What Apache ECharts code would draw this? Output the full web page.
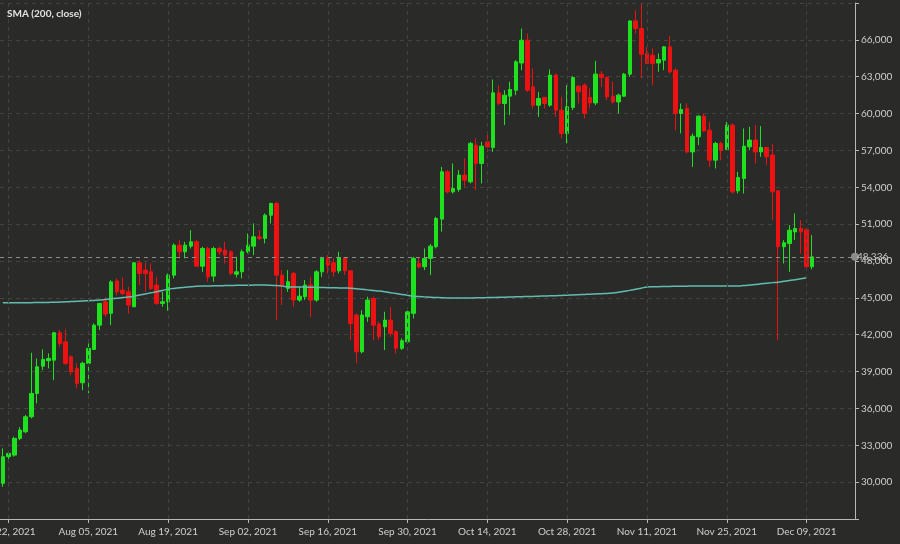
<!DOCTYPE html>
<html><head><meta charset="utf-8">
<script src="https://cdn.jsdelivr.net/npm/echarts@6/dist/echarts.min.js"></script>
<style>html,body{margin:0;padding:0;background:#2a2b29;}#c{width:900px;height:544px;}</style>
</head><body><div id="c"></div>
<script>
// ---- data ----
const firstDay = [2021, 6, 21];   // Jul 21, 2021 (first candle)
const totalSlots = 150;           // 143 candles + empty days to the right edge
const monthNames = ['Jan','Feb','Mar','Apr','May','Jun','Jul','Aug','Sep','Oct','Nov','Dec'];
const yTickLabels = [30000,33000,36000,39000,42000,45000,48000,51000,54000,57000,60000,63000,66000];
const lastPrice = 48336;
const smaTitle = 'SMA (200, close)';

const opens = [29900,32070,32200,33560,34100,35320,37220,39440,39880,39930,42160,41420,40200,39260,38090,39670,40800,42780,44680,43740,
46380,45630,45490,44270,47850,47260,47120,46040,44550,44680,46850,49290,48750,49210,49560,47580,49020,46770,49020,48890,
48750,46930,47120,48750,49210,49970,49840,51730,52680,46850,45770,46990,44820,45090,46040,44820,47120,48210,47850,47200,
48290,47200,43600,40610,43460,44950,42870,42650,43190,42240,40890,41420,43740,47800,47530,48210,49160,51410,55260,53630,
53820,54990,54450,57430,55940,57700,57240,61690,60820,61420,61900,64120,65970,62170,60680,61310,60680,63130,60280,58380,
60500,62230,62310,61310,60870,63210,62940,61420,60950,61420,63210,67540,66930,64890,64750,64120,64350,65430,63530,60010,
60410,56880,58110,59790,58650,56210,57570,57080,59060,53710,54720,57290,57840,56880,57240,56620,53710,49160,49430,50370,
50650,50570,47530];
const closes = [32070,32340,33560,34240,35320,37220,39390,39990,40070,42160,41290,39670,38980,38040,39670,40890,42780,44550,43680,46300,
45490,45360,44410,47850,46990,46990,45770,44550,44680,46850,49290,48750,49290,49560,47580,49020,46710,49020,48750,48480,
46990,47120,48750,49290,49970,49840,51730,52680,46850,46040,46310,44820,45140,46040,44820,47120,48210,47660,47120,48290,
47200,42920,40610,43600,44820,42780,41840,43190,42110,40890,41510,43860,48210,47530,48210,49210,51460,55260,53630,53900,
54990,54580,57570,55940,57350,57290,61690,60820,61500,61960,64210,65970,61900,60680,61230,60820,63130,60280,58380,60550,
62940,61770,60010,60870,63210,62940,61360,60950,61500,63210,67540,66930,64830,64080,64080,64400,65430,63400,60010,60330,
56880,58160,59790,58590,56210,57570,57020,59060,53630,54800,57350,57840,56880,57240,56480,53630,49160,49480,50510,50650,
50370,47530,48336];
const lows = [29620,31660,32070,33420,33990,35190,36410,39120,39260,38310,41020,39530,38710,37630,37490,37230,40750,42380,43460,42780,
45220,45220,43740,44270,46040,45490,45630,44410,44270,43950,46580,48210,48210,49020,47530,47120,46310,46310,48480,47800,
46850,46660,46580,48620,48480,49700,49430,51060,43190,44410,45490,44270,44680,44820,43460,44680,46710,46990,46710,46990,
46850,41560,39670,40480,43050,41560,41560,40750,41830,40480,40750,41290,43320,47400,47260,46850,49020,50380,53500,53500,
53630,54040,54310,53770,54310,56880,56880,60680,59060,59870,61500,63530,61770,60410,59730,60410,60550,59730,57980,57570,
60280,60820,59600,60410,60680,62170,61090,60820,60010,61360,62990,66520,62860,64080,62310,63400,63530,63260,58650,58380,
56750,55660,57430,58520,55660,55530,56210,57020,53500,53500,53500,57020,55940,56480,55800,51330,41560,47800,47120,49700,
48610,47400,47320];
const highs = [32750,32530,33700,34480,35460,40530,40070,40800,40480,42240,42380,42430,40340,39670,39800,41290,42920,44600,45040,46440,
46580,46660,45900,47930,48070,47850,47800,46710,45490,46990,49430,49700,49560,50510,49700,49160,49160,49160,49160,49560,
48890,48340,48940,50240,51060,50510,51870,52750,52820,47260,47260,47120,45900,46450,46710,47260,48340,48480,48210,48750,
48340,47260,43740,44000,45090,45090,43050,43870,44270,42380,41700,44000,48340,48290,49020,49380,51600,55660,55400,55940,
55400,56350,57700,57980,57700,58380,62770,62310,61900,62580,64350,66920,66510,63670,61770,61360,63590,63260,61360,62310,
63040,62310,62450,62040,64290,63470,63040,62580,61630,63310,67600,68410,68900,65430,65300,64890,65490,66300,63670,60820,
60820,58380,59870,60010,59330,57700,57700,59330,59190,55260,58790,58920,59060,58980,57290,57510,53770,49700,50920,51870,
51330,50650,50100];
const sma200 = [44600,44600,44600,44600,44610,44610,44620,44620,44630,44640,44660,44680,44700,44720,44740,44770,44790,44820,44870,44920,
44970,45020,45070,45140,45230,45320,45410,45500,45600,45710,45770,45820,45870,45910,45940,45960,45970,45980,45990,46000,
46010,46020,46030,46030,46040,46040,46040,46020,46000,45960,45900,45890,45880,45870,45860,45850,45840,45830,45820,45810,
45800,45790,45750,45700,45650,45600,45550,45490,45420,45350,45280,45210,45140,45110,45080,45050,45030,45010,44990,44980,
44980,44990,44990,45000,45010,45020,45030,45040,45050,45070,45090,45100,45110,45120,45140,45150,45170,45180,45200,45220,
45240,45260,45280,45300,45320,45340,45360,45390,45450,45530,45610,45700,45790,45880,45900,45910,45920,45930,45940,45950,
45950,45960,45960,45960,45960,45960,45960,45960,45960,45960,46000,46040,46090,46140,46190,46240,46280,46350,46420,46480,
46550,46610];

// ---- build ----
function fmtDate(d){
  const dd = d.getUTCDate();
  return monthNames[d.getUTCMonth()] + ' ' + (dd < 10 ? '0' + dd : dd) + ', ' + d.getUTCFullYear();
}
const categories = [];
for (let i = 0; i < totalSlots; i++) {
  categories.push(fmtDate(new Date(Date.UTC(firstDay[0], firstDay[1], firstDay[2] + i))));
}
const isLabelIdx = (idx) => idx >= 1 && (idx - 1) % 14 === 0;
const labelCats = categories.filter((c, i) => isLabelIdx(i));
const candles = opens.map((o, i) => [o, closes[i], lows[i], highs[i]]);
const fmtNum = (v) => v.toLocaleString('en-US');

const font = 'Lato';
const chart = echarts.init(document.getElementById('c'), null, {renderer: 'canvas'});
chart.setOption({
  backgroundColor: '#2a2b29',
  animation: false,
  title: {
    text: smaTitle, left: 7, top: 9, padding: 0,
    textStyle: {color: '#e2e2e2', fontSize: 10, fontWeight: 'bold', fontFamily: font}
  },
  grid: {left: 0, right: 45, top: 3, bottom: 25, containLabel: false, outerBoundsMode: 'none'},
  xAxis: {
    type: 'category', data: categories, boundaryGap: true,
    axisLine: {lineStyle: {color: '#b8b8b8', width: 1}},
    axisTick: {show: true, alignWithLabel: true, interval: (i) => isLabelIdx(i), length: 4, lineStyle: {color: '#b8b8b8'}},
    axisLabel: {interval: (i) => isLabelIdx(i), color: '#cfcfcf', fontSize: 10, fontFamily: font, margin: 8, hideOverlap: false},
    splitLine: {show: false}
  },
  yAxis: {
    type: 'value', position: 'right', min: 27000, max: 69000, interval: 3000, scale: true,
    axisLine: {show: true, lineStyle: {color: '#b8b8b8', width: 1}},
    axisTick: {show: true, length: 4, lineStyle: {color: '#b8b8b8'}},
    axisLabel: {
      color: '#cfcfcf', fontSize: 10, fontFamily: font, margin: 6,
      formatter: (v) => yTickLabels.indexOf(v) >= 0 ? fmtNum(v) : ''
    },
    splitLine: {show: true, lineStyle: {color: '#434441', type: [4, 4], width: 1}}
  },
  series: [
    {
      type: 'line', data: [], z: 1, silent: true,
      markLine: {
        silent: true, symbol: ['none', 'none'], animation: false,
        label: {show: false},
        lineStyle: {color: '#434441', type: [4, 4], width: 1},
        data: labelCats.map(c => ({xAxis: c}))
      }
    },
    {
      type: 'candlestick', data: candles, z: 2, barWidth: 4,
      itemStyle: {color: '#1fe21f', color0: '#ec1212', borderColor: '#1fe21f', borderColor0: '#ec1212', borderWidth: 1},
      markLine: {
        silent: true, symbol: ['none', 'circle'], symbolSize: 8, animation: false,
        lineStyle: {color: '#8c8c8c', type: [4, 4], width: 1},
        label: {show: true, position: 'end', formatter: fmtNum(lastPrice), color: '#c8c8c8', fontSize: 10, fontFamily: font, distance: 2},
        data: [{yAxis: lastPrice}]
      }
    },
    {
      type: 'line', data: sma200, z: 3, symbol: 'none', smooth: true, silent: true,
      lineStyle: {color: '#62bdae', width: 1.5}
    }
  ]
});
</script>
</body></html>
